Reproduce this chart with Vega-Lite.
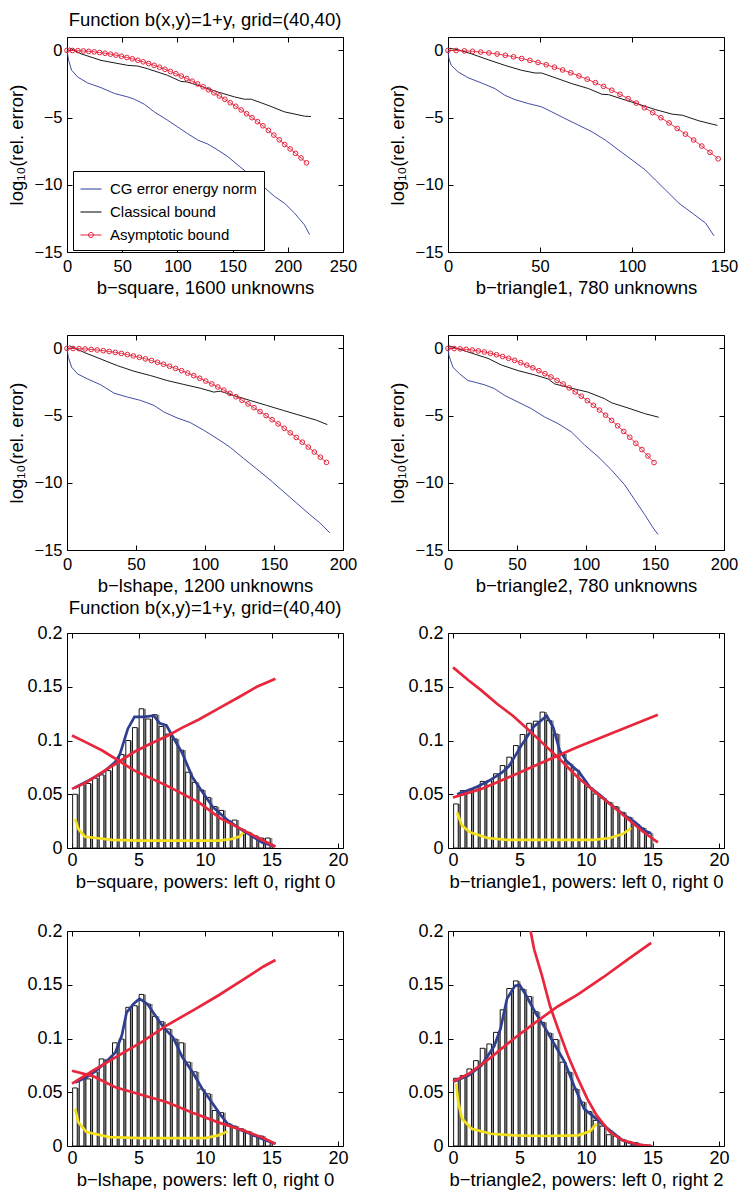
{
"$schema":"https://vega.github.io/schema/vega-lite/v6.json",
"padding":{"left":6,"top":10,"right":5,"bottom":5},
"config":{"font":"Liberation Sans","view":{"stroke":"black","strokeWidth":1},
"axis":{"grid":false,"domain":false,"tickColor":"black","tickWidth":1,"tickSize":-5,"labelColor":"black","titleColor":"black","labelFontSize":16.5,"titleFontSize":18.5,"titleFontWeight":"normal","labelFlush":false,"labelOverlap":false},
"title":{"fontSize":18.5,"fontWeight":"normal","color":"black","offset":7}},
"datasets":{
"L":[
{"p":"sq","s":"cg","x":0,"y":0},{"p":"sq","s":"cg","x":1.5,"y":-0.74},{"p":"sq","s":"cg","x":4.2,"y":-1.48},{"p":"sq","s":"cg","x":9.7,"y":-1.98},{"p":"sq","s":"cg","x":18.7,"y":-2.42},{"p":"sq","s":"cg","x":30.8,"y":-2.77},{"p":"sq","s":"cg","x":42.9,"y":-3.2},{"p":"sq","s":"cg","x":55,"y":-3.46},{"p":"sq","s":"cg","x":61,"y":-3.63},{"p":"sq","s":"cg","x":70,"y":-4.0},{"p":"sq","s":"cg","x":79,"y":-4.57},{"p":"sq","s":"cg","x":91,"y":-5.19},{"p":"sq","s":"cg","x":100,"y":-5.68},{"p":"sq","s":"cg","x":109,"y":-6.18},{"p":"sq","s":"cg","x":118.5,"y":-6.67},{"p":"sq","s":"cg","x":127.6,"y":-6.97},{"p":"sq","s":"cg","x":136.6,"y":-7.41},{"p":"sq","s":"cg","x":145.7,"y":-7.91},{"p":"sq","s":"cg","x":154.8,"y":-8.53},{"p":"sq","s":"cg","x":163.8,"y":-9.14},{"p":"sq","s":"cg","x":176,"y":-10.0},{"p":"sq","s":"cg","x":188,"y":-10.87},{"p":"sq","s":"cg","x":197,"y":-11.37},{"p":"sq","s":"cg","x":206,"y":-12.1},{"p":"sq","s":"cg","x":215,"y":-12.97},{"p":"sq","s":"cg","x":219.8,"y":-13.71},
{"p":"sq","s":"cl","x":2,"y":0.2},{"p":"sq","s":"cl","x":12.7,"y":-0.25},{"p":"sq","s":"cl","x":30.8,"y":-0.74},{"p":"sq","s":"cl","x":55,"y":-1.11},{"p":"sq","s":"cl","x":64,"y":-1.16},{"p":"sq","s":"cl","x":73,"y":-1.36},{"p":"sq","s":"cl","x":91,"y":-1.85},{"p":"sq","s":"cl","x":103,"y":-2.3},{"p":"sq","s":"cl","x":109,"y":-2.35},{"p":"sq","s":"cl","x":121.5,"y":-2.67},{"p":"sq","s":"cl","x":136.6,"y":-3.09},{"p":"sq","s":"cl","x":151.8,"y":-3.46},{"p":"sq","s":"cl","x":160.8,"y":-3.63},{"p":"sq","s":"cl","x":166.9,"y":-3.63},{"p":"sq","s":"cl","x":182,"y":-4.08},{"p":"sq","s":"cl","x":197,"y":-4.57},{"p":"sq","s":"cl","x":215,"y":-4.89},{"p":"sq","s":"cl","x":221,"y":-4.92},
{"p":"sq","s":"as","x":0,"y":0},{"p":"sq","s":"as","x":4.93,"y":-0.004},{"p":"sq","s":"as","x":9.86,"y":-0.017},{"p":"sq","s":"as","x":14.79,"y":-0.039},{"p":"sq","s":"as","x":19.72,"y":-0.069},{"p":"sq","s":"as","x":24.65,"y":-0.108},{"p":"sq","s":"as","x":29.58,"y":-0.156},{"p":"sq","s":"as","x":34.51,"y":-0.212},{"p":"sq","s":"as","x":39.44,"y":-0.277},{"p":"sq","s":"as","x":44.37,"y":-0.35},{"p":"sq","s":"as","x":49.3,"y":-0.433},{"p":"sq","s":"as","x":54.23,"y":-0.523},{"p":"sq","s":"as","x":59.16,"y":-0.623},{"p":"sq","s":"as","x":64.09,"y":-0.731},{"p":"sq","s":"as","x":69.02,"y":-0.848},{"p":"sq","s":"as","x":73.95,"y":-0.973},{"p":"sq","s":"as","x":78.88,"y":-1.107},{"p":"sq","s":"as","x":83.81,"y":-1.25},{"p":"sq","s":"as","x":88.74,"y":-1.402},{"p":"sq","s":"as","x":93.67,"y":-1.562},{"p":"sq","s":"as","x":98.6,"y":-1.73},{"p":"sq","s":"as","x":103.53,"y":-1.908},{"p":"sq","s":"as","x":108.46,"y":-2.094},{"p":"sq","s":"as","x":113.39,"y":-2.288},{"p":"sq","s":"as","x":118.32,"y":-2.492},{"p":"sq","s":"as","x":123.25,"y":-2.704},{"p":"sq","s":"as","x":128.18,"y":-2.924},{"p":"sq","s":"as","x":133.11,"y":-3.154},{"p":"sq","s":"as","x":138.04,"y":-3.392},{"p":"sq","s":"as","x":142.97,"y":-3.638},{"p":"sq","s":"as","x":147.9,"y":-3.893},{"p":"sq","s":"as","x":152.83,"y":-4.157},{"p":"sq","s":"as","x":157.76,"y":-4.43},{"p":"sq","s":"as","x":162.69,"y":-4.711},{"p":"sq","s":"as","x":167.62,"y":-5.001},{"p":"sq","s":"as","x":172.55,"y":-5.299},{"p":"sq","s":"as","x":177.48,"y":-5.606},{"p":"sq","s":"as","x":182.41,"y":-5.95},{"p":"sq","s":"as","x":187.34,"y":-6.3},{"p":"sq","s":"as","x":192.27,"y":-6.65},{"p":"sq","s":"as","x":197.2,"y":-7.0},{"p":"sq","s":"as","x":202.13,"y":-7.33},{"p":"sq","s":"as","x":207.06,"y":-7.66},{"p":"sq","s":"as","x":211.99,"y":-8.0},{"p":"sq","s":"as","x":216.92,"y":-8.36},
{"p":"t1","s":"cg","x":0,"y":0},{"p":"t1","s":"cg","x":0.5,"y":-0.62},{"p":"t1","s":"cg","x":1.8,"y":-1.11},{"p":"t1","s":"cg","x":5.5,"y":-1.6},{"p":"t1","s":"cg","x":10.9,"y":-2.03},{"p":"t1","s":"cg","x":18.2,"y":-2.42},{"p":"t1","s":"cg","x":25.5,"y":-2.84},{"p":"t1","s":"cg","x":30.9,"y":-3.34},{"p":"t1","s":"cg","x":36.4,"y":-3.66},{"p":"t1","s":"cg","x":43.6,"y":-3.95},{"p":"t1","s":"cg","x":50.9,"y":-4.2},{"p":"t1","s":"cg","x":56.4,"y":-4.57},{"p":"t1","s":"cg","x":63.6,"y":-5.07},{"p":"t1","s":"cg","x":70.9,"y":-5.56},{"p":"t1","s":"cg","x":78.2,"y":-6.05},{"p":"t1","s":"cg","x":85.5,"y":-6.67},{"p":"t1","s":"cg","x":92.7,"y":-7.41},{"p":"t1","s":"cg","x":100,"y":-8.15},{"p":"t1","s":"cg","x":107.3,"y":-8.9},{"p":"t1","s":"cg","x":112.7,"y":-9.64},{"p":"t1","s":"cg","x":118.2,"y":-10.38},{"p":"t1","s":"cg","x":125.5,"y":-11.37},{"p":"t1","s":"cg","x":132.7,"y":-12.1},{"p":"t1","s":"cg","x":140,"y":-12.85},{"p":"t1","s":"cg","x":144.5,"y":-13.79},
{"p":"t1","s":"cl","x":0.4,"y":0.17},{"p":"t1","s":"cl","x":5.5,"y":0.05},{"p":"t1","s":"cl","x":12.7,"y":-0.25},{"p":"t1","s":"cl","x":21.8,"y":-0.69},{"p":"t1","s":"cl","x":30.9,"y":-1.11},{"p":"t1","s":"cl","x":40,"y":-1.48},{"p":"t1","s":"cl","x":47.3,"y":-1.68},{"p":"t1","s":"cl","x":50.9,"y":-1.68},{"p":"t1","s":"cl","x":58.2,"y":-2.03},{"p":"t1","s":"cl","x":67.3,"y":-2.47},{"p":"t1","s":"cl","x":76.4,"y":-2.84},{"p":"t1","s":"cl","x":83.6,"y":-3.26},{"p":"t1","s":"cl","x":87.3,"y":-3.29},{"p":"t1","s":"cl","x":94.5,"y":-3.61},{"p":"t1","s":"cl","x":103.6,"y":-4.0},{"p":"t1","s":"cl","x":112.7,"y":-4.4},{"p":"t1","s":"cl","x":121.8,"y":-4.74},{"p":"t1","s":"cl","x":127.3,"y":-4.82},{"p":"t1","s":"cl","x":136.4,"y":-5.24},{"p":"t1","s":"cl","x":146.4,"y":-5.58},
{"p":"t1","s":"as","x":0,"y":0},{"p":"t1","s":"as","x":4.45,"y":-0.007},{"p":"t1","s":"as","x":8.9,"y":-0.03},{"p":"t1","s":"as","x":13.35,"y":-0.067},{"p":"t1","s":"as","x":17.8,"y":-0.119},{"p":"t1","s":"as","x":22.25,"y":-0.185},{"p":"t1","s":"as","x":26.7,"y":-0.267},{"p":"t1","s":"as","x":31.15,"y":-0.363},{"p":"t1","s":"as","x":35.6,"y":-0.474},{"p":"t1","s":"as","x":40.05,"y":-0.6},{"p":"t1","s":"as","x":44.5,"y":-0.741},{"p":"t1","s":"as","x":48.95,"y":-0.896},{"p":"t1","s":"as","x":53.4,"y":-1.066},{"p":"t1","s":"as","x":57.85,"y":-1.252},{"p":"t1","s":"as","x":62.3,"y":-1.452},{"p":"t1","s":"as","x":66.75,"y":-1.666},{"p":"t1","s":"as","x":71.2,"y":-1.896},{"p":"t1","s":"as","x":75.65,"y":-2.14},{"p":"t1","s":"as","x":80.1,"y":-2.4},{"p":"t1","s":"as","x":84.55,"y":-2.674},{"p":"t1","s":"as","x":89,"y":-2.963},{"p":"t1","s":"as","x":93.45,"y":-3.266},{"p":"t1","s":"as","x":97.9,"y":-3.585},{"p":"t1","s":"as","x":102.35,"y":-3.918},{"p":"t1","s":"as","x":106.8,"y":-4.266},{"p":"t1","s":"as","x":111.25,"y":-4.629},{"p":"t1","s":"as","x":115.7,"y":-5.007},{"p":"t1","s":"as","x":120.15,"y":-5.399},{"p":"t1","s":"as","x":124.6,"y":-5.806},{"p":"t1","s":"as","x":129.05,"y":-6.229},{"p":"t1","s":"as","x":133.5,"y":-6.666},{"p":"t1","s":"as","x":137.95,"y":-7.117},{"p":"t1","s":"as","x":142.4,"y":-7.584},{"p":"t1","s":"as","x":146.85,"y":-8.065},
{"p":"ls","s":"cg","x":0,"y":0},{"p":"ls","s":"cg","x":1,"y":-0.67},{"p":"ls","s":"cg","x":3.4,"y":-1.4},{"p":"ls","s":"cg","x":7.7,"y":-1.9},{"p":"ls","s":"cg","x":14.9,"y":-2.27},{"p":"ls","s":"cg","x":24.5,"y":-2.71},{"p":"ls","s":"cg","x":34.1,"y":-3.33},{"p":"ls","s":"cg","x":43.8,"y":-3.62},{"p":"ls","s":"cg","x":53.4,"y":-3.87},{"p":"ls","s":"cg","x":63,"y":-4.24},{"p":"ls","s":"cg","x":70.2,"y":-4.73},{"p":"ls","s":"cg","x":79.8,"y":-5.17},{"p":"ls","s":"cg","x":89.4,"y":-5.52},{"p":"ls","s":"cg","x":99,"y":-6.08},{"p":"ls","s":"cg","x":108.7,"y":-6.7},{"p":"ls","s":"cg","x":118.3,"y":-7.36},{"p":"ls","s":"cg","x":127.9,"y":-8.18},{"p":"ls","s":"cg","x":137.5,"y":-8.97},{"p":"ls","s":"cg","x":147.1,"y":-9.78},{"p":"ls","s":"cg","x":156.7,"y":-10.64},{"p":"ls","s":"cg","x":166.3,"y":-11.5},{"p":"ls","s":"cg","x":175.9,"y":-12.36},{"p":"ls","s":"cg","x":183.2,"y":-12.98},{"p":"ls","s":"cg","x":190.4,"y":-13.72},
{"p":"ls","s":"cl","x":1.7,"y":0.2},{"p":"ls","s":"cl","x":12.5,"y":-0.3},{"p":"ls","s":"cl","x":24.5,"y":-0.79},{"p":"ls","s":"cl","x":36.5,"y":-1.28},{"p":"ls","s":"cl","x":48.6,"y":-1.7},{"p":"ls","s":"cl","x":60.6,"y":-2.02},{"p":"ls","s":"cl","x":72.6,"y":-2.39},{"p":"ls","s":"cl","x":84.6,"y":-2.68},{"p":"ls","s":"cl","x":96.6,"y":-2.96},{"p":"ls","s":"cl","x":106.3,"y":-3.25},{"p":"ls","s":"cl","x":111,"y":-3.18},{"p":"ls","s":"cl","x":120.7,"y":-3.5},{"p":"ls","s":"cl","x":132.7,"y":-3.87},{"p":"ls","s":"cl","x":144.7,"y":-4.24},{"p":"ls","s":"cl","x":156.7,"y":-4.61},{"p":"ls","s":"cl","x":168.8,"y":-4.98},{"p":"ls","s":"cl","x":180.8,"y":-5.34},{"p":"ls","s":"cl","x":188.7,"y":-5.67},
{"p":"ls","s":"as","x":0,"y":0},{"p":"ls","s":"as","x":4.37,"y":-0.005},{"p":"ls","s":"as","x":8.74,"y":-0.018},{"p":"ls","s":"as","x":13.12,"y":-0.041},{"p":"ls","s":"as","x":17.49,"y":-0.073},{"p":"ls","s":"as","x":21.86,"y":-0.115},{"p":"ls","s":"as","x":26.23,"y":-0.165},{"p":"ls","s":"as","x":30.6,"y":-0.225},{"p":"ls","s":"as","x":34.98,"y":-0.294},{"p":"ls","s":"as","x":39.35,"y":-0.372},{"p":"ls","s":"as","x":43.72,"y":-0.459},{"p":"ls","s":"as","x":48.09,"y":-0.555},{"p":"ls","s":"as","x":52.46,"y":-0.661},{"p":"ls","s":"as","x":56.84,"y":-0.775},{"p":"ls","s":"as","x":61.21,"y":-0.899},{"p":"ls","s":"as","x":65.58,"y":-1.032},{"p":"ls","s":"as","x":69.95,"y":-1.174},{"p":"ls","s":"as","x":74.32,"y":-1.326},{"p":"ls","s":"as","x":78.7,"y":-1.486},{"p":"ls","s":"as","x":83.07,"y":-1.656},{"p":"ls","s":"as","x":87.44,"y":-1.835},{"p":"ls","s":"as","x":91.81,"y":-2.023},{"p":"ls","s":"as","x":96.18,"y":-2.22},{"p":"ls","s":"as","x":100.56,"y":-2.426},{"p":"ls","s":"as","x":104.93,"y":-2.642},{"p":"ls","s":"as","x":109.3,"y":-2.867},{"p":"ls","s":"as","x":113.67,"y":-3.101},{"p":"ls","s":"as","x":118.04,"y":-3.344},{"p":"ls","s":"as","x":122.42,"y":-3.596},{"p":"ls","s":"as","x":126.79,"y":-3.858},{"p":"ls","s":"as","x":131.16,"y":-4.128},{"p":"ls","s":"as","x":135.53,"y":-4.408},{"p":"ls","s":"as","x":139.9,"y":-4.697},{"p":"ls","s":"as","x":144.28,"y":-4.995},{"p":"ls","s":"as","x":148.65,"y":-5.303},{"p":"ls","s":"as","x":153.02,"y":-5.619},{"p":"ls","s":"as","x":157.39,"y":-5.945},{"p":"ls","s":"as","x":161.76,"y":-6.28},{"p":"ls","s":"as","x":166.14,"y":-6.624},{"p":"ls","s":"as","x":170.51,"y":-6.977},{"p":"ls","s":"as","x":174.88,"y":-7.339},{"p":"ls","s":"as","x":179.25,"y":-7.711},{"p":"ls","s":"as","x":183.62,"y":-8.091},{"p":"ls","s":"as","x":188.0,"y":-8.481},
{"p":"t2","s":"cg","x":0,"y":0},{"p":"t2","s":"cg","x":0.7,"y":-0.54},{"p":"t2","s":"cg","x":3.6,"y":-1.4},{"p":"t2","s":"cg","x":8.5,"y":-1.9},{"p":"t2","s":"cg","x":14.5,"y":-2.39},{"p":"t2","s":"cg","x":19.3,"y":-2.51},{"p":"t2","s":"cg","x":26.6,"y":-2.71},{"p":"t2","s":"cg","x":33.8,"y":-3.0},{"p":"t2","s":"cg","x":41.1,"y":-3.5},{"p":"t2","s":"cg","x":50.7,"y":-3.99},{"p":"t2","s":"cg","x":60.4,"y":-4.48},{"p":"t2","s":"cg","x":70,"y":-5.1},{"p":"t2","s":"cg","x":79.7,"y":-5.59},{"p":"t2","s":"cg","x":89.4,"y":-6.21},{"p":"t2","s":"cg","x":99,"y":-7.19},{"p":"t2","s":"cg","x":108.7,"y":-8.05},{"p":"t2","s":"cg","x":118.4,"y":-9.04},{"p":"t2","s":"cg","x":128,"y":-10.15},{"p":"t2","s":"cg","x":135.3,"y":-11.26},{"p":"t2","s":"cg","x":142.5,"y":-12.36},{"p":"t2","s":"cg","x":148.6,"y":-13.35},{"p":"t2","s":"cg","x":152.2,"y":-13.84},
{"p":"t2","s":"cl","x":0.5,"y":0.2},{"p":"t2","s":"cl","x":9.7,"y":-0.1},{"p":"t2","s":"cl","x":19.3,"y":-0.42},{"p":"t2","s":"cl","x":29,"y":-0.74},{"p":"t2","s":"cl","x":38.6,"y":-1.23},{"p":"t2","s":"cl","x":50.7,"y":-1.65},{"p":"t2","s":"cl","x":62.8,"y":-1.97},{"p":"t2","s":"cl","x":72.5,"y":-2.27},{"p":"t2","s":"cl","x":77.3,"y":-2.64},{"p":"t2","s":"cl","x":89.4,"y":-2.96},{"p":"t2","s":"cl","x":101.4,"y":-3.25},{"p":"t2","s":"cl","x":113.5,"y":-3.74},{"p":"t2","s":"cl","x":118.4,"y":-4.04},{"p":"t2","s":"cl","x":130.4,"y":-4.43},{"p":"t2","s":"cl","x":142.5,"y":-4.85},{"p":"t2","s":"cl","x":152.7,"y":-5.12},
{"p":"t2","s":"as","x":0,"y":0},{"p":"t2","s":"as","x":4.39,"y":-0.007},{"p":"t2","s":"as","x":8.78,"y":-0.029},{"p":"t2","s":"as","x":13.17,"y":-0.066},{"p":"t2","s":"as","x":17.56,"y":-0.118},{"p":"t2","s":"as","x":21.96,"y":-0.184},{"p":"t2","s":"as","x":26.35,"y":-0.265},{"p":"t2","s":"as","x":30.74,"y":-0.36},{"p":"t2","s":"as","x":35.13,"y":-0.47},{"p":"t2","s":"as","x":39.52,"y":-0.595},{"p":"t2","s":"as","x":43.91,"y":-0.735},{"p":"t2","s":"as","x":48.3,"y":-0.889},{"p":"t2","s":"as","x":52.69,"y":-1.058},{"p":"t2","s":"as","x":57.08,"y":-1.241},{"p":"t2","s":"as","x":61.47,"y":-1.44},{"p":"t2","s":"as","x":65.87,"y":-1.653},{"p":"t2","s":"as","x":70.26,"y":-1.881},{"p":"t2","s":"as","x":74.65,"y":-2.123},{"p":"t2","s":"as","x":79.04,"y":-2.38},{"p":"t2","s":"as","x":83.43,"y":-2.652},{"p":"t2","s":"as","x":87.82,"y":-2.938},{"p":"t2","s":"as","x":92.21,"y":-3.24},{"p":"t2","s":"as","x":96.6,"y":-3.555},{"p":"t2","s":"as","x":100.99,"y":-3.886},{"p":"t2","s":"as","x":105.38,"y":-4.231},{"p":"t2","s":"as","x":109.78,"y":-4.591},{"p":"t2","s":"as","x":114.17,"y":-4.966},{"p":"t2","s":"as","x":118.56,"y":-5.355},{"p":"t2","s":"as","x":122.95,"y":-5.759},{"p":"t2","s":"as","x":127.34,"y":-6.178},{"p":"t2","s":"as","x":131.73,"y":-6.611},{"p":"t2","s":"as","x":136.12,"y":-7.06},{"p":"t2","s":"as","x":140.51,"y":-7.522},{"p":"t2","s":"as","x":144.9,"y":-8.0},{"p":"t2","s":"as","x":149.29,"y":-8.492}
],
"H":[
{"p":"sq","x":0.22,"h":0.050},{"p":"sq","x":0.72,"h":0.059},{"p":"sq","x":1.22,"h":0.060},{"p":"sq","x":1.72,"h":0.065},{"p":"sq","x":2.22,"h":0.068},{"p":"sq","x":2.72,"h":0.072},{"p":"sq","x":3.22,"h":0.078},{"p":"sq","x":3.72,"h":0.087},{"p":"sq","x":4.22,"h":0.100},{"p":"sq","x":4.72,"h":0.112},{"p":"sq","x":5.22,"h":0.1295},{"p":"sq","x":5.72,"h":0.120},{"p":"sq","x":6.22,"h":0.124},{"p":"sq","x":6.72,"h":0.113},{"p":"sq","x":7.22,"h":0.106},{"p":"sq","x":7.72,"h":0.1015},{"p":"sq","x":8.22,"h":0.091},{"p":"sq","x":8.72,"h":0.0705},{"p":"sq","x":9.22,"h":0.061},{"p":"sq","x":9.72,"h":0.054},{"p":"sq","x":10.22,"h":0.047},{"p":"sq","x":10.72,"h":0.0385},{"p":"sq","x":11.22,"h":0.035},{"p":"sq","x":11.72,"h":0.0255},{"p":"sq","x":12.22,"h":0.026},{"p":"sq","x":12.72,"h":0.0177},{"p":"sq","x":13.22,"h":0.0146},{"p":"sq","x":13.72,"h":0.0115},{"p":"sq","x":14.22,"h":0.0093},{"p":"sq","x":14.72,"h":0.0093},
{"p":"t1","x":0.22,"h":0.041},{"p":"t1","x":0.72,"h":0.0534},{"p":"t1","x":1.22,"h":0.054},{"p":"t1","x":1.72,"h":0.0565},{"p":"t1","x":2.22,"h":0.062},{"p":"t1","x":2.72,"h":0.0627},{"p":"t1","x":3.22,"h":0.069},{"p":"t1","x":3.72,"h":0.0767},{"p":"t1","x":4.22,"h":0.0845},{"p":"t1","x":4.72,"h":0.0953},{"p":"t1","x":5.22,"h":0.1056},{"p":"t1","x":5.72,"h":0.116},{"p":"t1","x":6.22,"h":0.118},{"p":"t1","x":6.72,"h":0.1264},{"p":"t1","x":7.22,"h":0.1186},{"p":"t1","x":7.72,"h":0.106},{"p":"t1","x":8.22,"h":0.0876},{"p":"t1","x":8.72,"h":0.0783},{"p":"t1","x":9.22,"h":0.0727},{"p":"t1","x":9.72,"h":0.0627},{"p":"t1","x":10.22,"h":0.0565},{"p":"t1","x":10.72,"h":0.0503},{"p":"t1","x":11.22,"h":0.0466},{"p":"t1","x":11.72,"h":0.0425},{"p":"t1","x":12.22,"h":0.0385},{"p":"t1","x":12.72,"h":0.0332},{"p":"t1","x":13.22,"h":0.0286},{"p":"t1","x":13.72,"h":0.0224},{"p":"t1","x":14.22,"h":0.0186},{"p":"t1","x":14.72,"h":0.0137},
{"p":"ls","x":0.22,"h":0.054},{"p":"ls","x":0.72,"h":0.0624},{"p":"ls","x":1.22,"h":0.0624},{"p":"ls","x":1.72,"h":0.069},{"p":"ls","x":2.22,"h":0.081},{"p":"ls","x":2.72,"h":0.080},{"p":"ls","x":3.22,"h":0.096},{"p":"ls","x":3.72,"h":0.0995},{"p":"ls","x":4.22,"h":0.129},{"p":"ls","x":4.72,"h":0.1305},{"p":"ls","x":5.22,"h":0.141},{"p":"ls","x":5.72,"h":0.132},{"p":"ls","x":6.22,"h":0.1206},{"p":"ls","x":6.72,"h":0.1156},{"p":"ls","x":7.22,"h":0.1088},{"p":"ls","x":7.72,"h":0.0995},{"p":"ls","x":8.22,"h":0.096},{"p":"ls","x":8.72,"h":0.078},{"p":"ls","x":9.22,"h":0.069},{"p":"ls","x":9.72,"h":0.053},{"p":"ls","x":10.22,"h":0.0485},{"p":"ls","x":10.72,"h":0.033},{"p":"ls","x":11.22,"h":0.031},{"p":"ls","x":11.72,"h":0.0207},{"p":"ls","x":12.22,"h":0.0185},{"p":"ls","x":12.72,"h":0.016},{"p":"ls","x":13.22,"h":0.0136},{"p":"ls","x":13.72,"h":0.0093},{"p":"ls","x":14.22,"h":0.0093},{"p":"ls","x":14.72,"h":0.0043},
{"p":"t2","x":0.22,"h":0.063},{"p":"t2","x":0.72,"h":0.0655},{"p":"t2","x":1.22,"h":0.0717},{"p":"t2","x":1.72,"h":0.0794},{"p":"t2","x":2.22,"h":0.0909},{"p":"t2","x":2.72,"h":0.0949},{"p":"t2","x":3.22,"h":0.1057},{"p":"t2","x":3.72,"h":0.1267},{"p":"t2","x":4.22,"h":0.1465},{"p":"t2","x":4.72,"h":0.1536},{"p":"t2","x":5.22,"h":0.1459},{"p":"t2","x":5.72,"h":0.139},{"p":"t2","x":6.22,"h":0.1249},{"p":"t2","x":6.72,"h":0.115},{"p":"t2","x":7.22,"h":0.105},{"p":"t2","x":7.72,"h":0.099},{"p":"t2","x":8.22,"h":0.078},{"p":"t2","x":8.72,"h":0.0686},{"p":"t2","x":9.22,"h":0.053},{"p":"t2","x":9.72,"h":0.0408},{"p":"t2","x":10.22,"h":0.0321},{"p":"t2","x":10.72,"h":0.0238},{"p":"t2","x":11.22,"h":0.0185},{"p":"t2","x":11.72,"h":0.0105},{"p":"t2","x":12.22,"h":0.0093},{"p":"t2","x":12.72,"h":0.0062},{"p":"t2","x":13.22,"h":0.0043},{"p":"t2","x":13.72,"h":0.0031},{"p":"t2","x":14.22,"h":0.0012},{"p":"t2","x":14.72,"h":0.0006}
],
"C":[
{"p":"sq","s":"yel","x":0.24,"y":0.027},{"p":"sq","s":"yel","x":0.48,"y":0.0177},{"p":"sq","s":"yel","x":0.97,"y":0.0106},{"p":"sq","s":"yel","x":1.8,"y":0.0093},{"p":"sq","s":"yel","x":3.0,"y":0.0075},{"p":"sq","s":"yel","x":5.2,"y":0.0068},{"p":"sq","s":"yel","x":7.6,"y":0.0068},{"p":"sq","s":"yel","x":11.0,"y":0.0068},{"p":"sq","s":"yel","x":12.0,"y":0.0084},{"p":"sq","s":"yel","x":12.6,"y":0.0106},{"p":"sq","s":"yel","x":12.9,"y":0.0146},
{"p":"sq","s":"fit","x":0.2,"y":0.056},{"p":"sq","s":"fit","x":1.3,"y":0.063},{"p":"sq","s":"fit","x":2.3,"y":0.07},{"p":"sq","s":"fit","x":3.25,"y":0.08},{"p":"sq","s":"fit","x":3.6,"y":0.087},{"p":"sq","s":"fit","x":3.85,"y":0.097},{"p":"sq","s":"fit","x":4.2,"y":0.111},{"p":"sq","s":"fit","x":4.7,"y":0.122},{"p":"sq","s":"fit","x":5.4,"y":0.122},{"p":"sq","s":"fit","x":6.15,"y":0.123},{"p":"sq","s":"fit","x":6.6,"y":0.116},{"p":"sq","s":"fit","x":7.1,"y":0.114},{"p":"sq","s":"fit","x":7.6,"y":0.103},{"p":"sq","s":"fit","x":8.3,"y":0.088},{"p":"sq","s":"fit","x":9.05,"y":0.066},{"p":"sq","s":"fit","x":9.7,"y":0.054},{"p":"sq","s":"fit","x":10.6,"y":0.038},{"p":"sq","s":"fit","x":11.6,"y":0.027},{"p":"sq","s":"fit","x":12.6,"y":0.018},{"p":"sq","s":"fit","x":13.3,"y":0.013},{"p":"sq","s":"fit","x":14.3,"y":0.005},{"p":"sq","s":"fit","x":15.25,"y":0.0015},
{"p":"sq","s":"r1","x":0,"y":0.055},{"p":"sq","s":"r1","x":1.09,"y":0.061},{"p":"sq","s":"r1","x":2.27,"y":0.0705},{"p":"sq","s":"r1","x":3.5,"y":0.08},{"p":"sq","s":"r1","x":4.7,"y":0.0895},{"p":"sq","s":"r1","x":5.9,"y":0.097},{"p":"sq","s":"r1","x":7.12,"y":0.104},{"p":"sq","s":"r1","x":8.3,"y":0.112},{"p":"sq","s":"r1","x":9.54,"y":0.1195},{"p":"sq","s":"r1","x":11.2,"y":0.131},{"p":"sq","s":"r1","x":12.5,"y":0.14},{"p":"sq","s":"r1","x":13.9,"y":0.15},{"p":"sq","s":"r1","x":15.3,"y":0.1575},
{"p":"sq","s":"r2","x":0,"y":0.1047},{"p":"sq","s":"r2","x":1.1,"y":0.098},{"p":"sq","s":"r2","x":2.27,"y":0.0907},{"p":"sq","s":"r2","x":4.7,"y":0.072},{"p":"sq","s":"r2","x":7.12,"y":0.058},{"p":"sq","s":"r2","x":9.54,"y":0.0425},{"p":"sq","s":"r2","x":11.1,"y":0.028},{"p":"sq","s":"r2","x":12.5,"y":0.019},{"p":"sq","s":"r2","x":13.9,"y":0.01},{"p":"sq","s":"r2","x":15.3,"y":0.0012},
{"p":"t1","s":"yel","x":0.31,"y":0.033},{"p":"t1","s":"yel","x":0.68,"y":0.0208},{"p":"t1","s":"yel","x":1.28,"y":0.0146},{"p":"t1","s":"yel","x":2.6,"y":0.0093},{"p":"t1","s":"yel","x":4.06,"y":0.0075},{"p":"t1","s":"yel","x":7,"y":0.0075},{"p":"t1","s":"yel","x":10.6,"y":0.0075},{"p":"t1","s":"yel","x":11.8,"y":0.0093},{"p":"t1","s":"yel","x":12.75,"y":0.013},{"p":"t1","s":"yel","x":13.4,"y":0.0186},
{"p":"t1","s":"fit","x":0.31,"y":0.05},{"p":"t1","s":"fit","x":1.0,"y":0.053},{"p":"t1","s":"fit","x":1.74,"y":0.0565},{"p":"t1","s":"fit","x":2.7,"y":0.0625},{"p":"t1","s":"fit","x":3.67,"y":0.07},{"p":"t1","s":"fit","x":4.2,"y":0.076},{"p":"t1","s":"fit","x":4.64,"y":0.085},{"p":"t1","s":"fit","x":5.12,"y":0.095},{"p":"t1","s":"fit","x":5.6,"y":0.104},{"p":"t1","s":"fit","x":6.09,"y":0.113},{"p":"t1","s":"fit","x":6.57,"y":0.118},{"p":"t1","s":"fit","x":7.05,"y":0.123},{"p":"t1","s":"fit","x":7.54,"y":0.112},{"p":"t1","s":"fit","x":8.01,"y":0.091},{"p":"t1","s":"fit","x":8.5,"y":0.0814},{"p":"t1","s":"fit","x":8.99,"y":0.0758},{"p":"t1","s":"fit","x":9.46,"y":0.071},{"p":"t1","s":"fit","x":10.3,"y":0.0565},{"p":"t1","s":"fit","x":11.1,"y":0.0488},{"p":"t1","s":"fit","x":11.8,"y":0.041},{"p":"t1","s":"fit","x":12.75,"y":0.0317},{"p":"t1","s":"fit","x":13.7,"y":0.024},{"p":"t1","s":"fit","x":14.4,"y":0.016},{"p":"t1","s":"fit","x":14.9,"y":0.0137},
{"p":"t1","s":"r1","x":0,"y":0.047},{"p":"t1","s":"r1","x":2.13,"y":0.055},{"p":"t1","s":"r1","x":4.5,"y":0.0674},{"p":"t1","s":"r1","x":6.96,"y":0.081},{"p":"t1","s":"r1","x":9.37,"y":0.094},{"p":"t1","s":"r1","x":11.8,"y":0.106},{"p":"t1","s":"r1","x":15.4,"y":0.124},
{"p":"t1","s":"r2","x":0,"y":0.168},{"p":"t1","s":"r2","x":1.16,"y":0.156},{"p":"t1","s":"r2","x":2.13,"y":0.1466},{"p":"t1","s":"r2","x":3.33,"y":0.134},{"p":"t1","s":"r2","x":4.5,"y":0.123},{"p":"t1","s":"r2","x":5.75,"y":0.109},{"p":"t1","s":"r2","x":6.96,"y":0.095},{"p":"t1","s":"r2","x":8.16,"y":0.081},{"p":"t1","s":"r2","x":9.37,"y":0.0658},{"p":"t1","s":"r2","x":10.6,"y":0.053},{"p":"t1","s":"r2","x":11.8,"y":0.041},{"p":"t1","s":"r2","x":13.0,"y":0.0286},{"p":"t1","s":"r2","x":14.2,"y":0.016},{"p":"t1","s":"r2","x":15.4,"y":0.0053},
{"p":"ls","s":"yel","x":0.24,"y":0.0346},{"p":"ls","s":"yel","x":0.48,"y":0.022},{"p":"ls","s":"yel","x":1.09,"y":0.013},{"p":"ls","s":"yel","x":2.8,"y":0.0083},{"p":"ls","s":"yel","x":5.2,"y":0.0074},{"p":"ls","s":"yel","x":10,"y":0.0074},{"p":"ls","s":"yel","x":11,"y":0.0099},{"p":"ls","s":"yel","x":11.7,"y":0.0136},
{"p":"ls","s":"fit","x":0.24,"y":0.059},{"p":"ls","s":"fit","x":1.09,"y":0.064},{"p":"ls","s":"fit","x":1.81,"y":0.07},{"p":"ls","s":"fit","x":2.54,"y":0.078},{"p":"ls","s":"fit","x":3.26,"y":0.087},{"p":"ls","s":"fit","x":3.75,"y":0.103},{"p":"ls","s":"fit","x":4.1,"y":0.124},{"p":"ls","s":"fit","x":4.6,"y":0.132},{"p":"ls","s":"fit","x":5.08,"y":0.137},{"p":"ls","s":"fit","x":5.68,"y":0.132},{"p":"ls","s":"fit","x":6.17,"y":0.123},{"p":"ls","s":"fit","x":6.9,"y":0.11},{"p":"ls","s":"fit","x":7.6,"y":0.101},{"p":"ls","s":"fit","x":8.3,"y":0.0825},{"p":"ls","s":"fit","x":9.07,"y":0.0686},{"p":"ls","s":"fit","x":9.8,"y":0.053},{"p":"ls","s":"fit","x":10.5,"y":0.041},{"p":"ls","s":"fit","x":11.2,"y":0.0284},{"p":"ls","s":"fit","x":11.7,"y":0.0207},{"p":"ls","s":"fit","x":12.45,"y":0.016},{"p":"ls","s":"fit","x":13.4,"y":0.0114},{"p":"ls","s":"fit","x":14.4,"y":0.006},{"p":"ls","s":"fit","x":15.3,"y":0.002},
{"p":"ls","s":"r1","x":0,"y":0.058},{"p":"ls","s":"r1","x":1.57,"y":0.07},{"p":"ls","s":"r1","x":3.26,"y":0.0825},{"p":"ls","s":"r1","x":5.2,"y":0.0964},{"p":"ls","s":"r1","x":7.1,"y":0.112},{"p":"ls","s":"r1","x":9.07,"y":0.126},{"p":"ls","s":"r1","x":11.0,"y":0.14},{"p":"ls","s":"r1","x":12.9,"y":0.155},{"p":"ls","s":"r1","x":14.4,"y":0.167},{"p":"ls","s":"r1","x":15.3,"y":0.173},
{"p":"ls","s":"r2","x":0,"y":0.07},{"p":"ls","s":"r2","x":1.57,"y":0.065},{"p":"ls","s":"r2","x":3.26,"y":0.0547},{"p":"ls","s":"r2","x":5.2,"y":0.0476},{"p":"ls","s":"r2","x":7.1,"y":0.041},{"p":"ls","s":"r2","x":9.07,"y":0.031},{"p":"ls","s":"r2","x":11.0,"y":0.022},{"p":"ls","s":"r2","x":12.9,"y":0.0145},{"p":"ls","s":"r2","x":14.4,"y":0.0074},{"p":"ls","s":"r2","x":15.3,"y":0.002},
{"p":"t2","s":"yel","x":0.24,"y":0.058},{"p":"t2","s":"yel","x":0.39,"y":0.041},{"p":"t2","s":"yel","x":0.68,"y":0.0253},{"p":"t2","s":"yel","x":1.4,"y":0.016},{"p":"t2","s":"yel","x":2.85,"y":0.0114},{"p":"t2","s":"yel","x":4.54,"y":0.0099},{"p":"t2","s":"yel","x":6.96,"y":0.0093},{"p":"t2","s":"yel","x":9.4,"y":0.0099},{"p":"t2","s":"yel","x":10.3,"y":0.0136},{"p":"t2","s":"yel","x":10.8,"y":0.0207},
{"p":"t2","s":"fit","x":0.07,"y":0.06},{"p":"t2","s":"fit","x":1.16,"y":0.0655},{"p":"t2","s":"fit","x":2.13,"y":0.0748},{"p":"t2","s":"fit","x":3.1,"y":0.093},{"p":"t2","s":"fit","x":3.57,"y":0.109},{"p":"t2","s":"fit","x":4.06,"y":0.137},{"p":"t2","s":"fit","x":4.66,"y":0.149},{"p":"t2","s":"fit","x":5.0,"y":0.15},{"p":"t2","s":"fit","x":5.5,"y":0.14},{"p":"t2","s":"fit","x":6.2,"y":0.124},{"p":"t2","s":"fit","x":6.96,"y":0.109},{"p":"t2","s":"fit","x":7.7,"y":0.093},{"p":"t2","s":"fit","x":8.4,"y":0.078},{"p":"t2","s":"fit","x":9.1,"y":0.056},{"p":"t2","s":"fit","x":9.86,"y":0.0346},{"p":"t2","s":"fit","x":10.8,"y":0.025},{"p":"t2","s":"fit","x":11.8,"y":0.0145},{"p":"t2","s":"fit","x":12.75,"y":0.0053},{"p":"t2","s":"fit","x":13.7,"y":0.0012},{"p":"t2","s":"fit","x":14.9,"y":0},
{"p":"t2","s":"r1","x":0,"y":0.06},{"p":"t2","s":"r1","x":1.16,"y":0.067},{"p":"t2","s":"r1","x":2.85,"y":0.0825},{"p":"t2","s":"r1","x":4.54,"y":0.0995},{"p":"t2","s":"r1","x":6.2,"y":0.115},{"p":"t2","s":"r1","x":7.9,"y":0.13},{"p":"t2","s":"r1","x":9.4,"y":0.141},{"p":"t2","s":"r1","x":11.3,"y":0.157},{"p":"t2","s":"r1","x":13.2,"y":0.174},{"p":"t2","s":"r1","x":14.9,"y":0.189},
{"p":"t2","s":"r2","x":5.75,"y":0.205},{"p":"t2","s":"r2","x":6.1,"y":0.183},{"p":"t2","s":"r2","x":6.7,"y":0.158},{"p":"t2","s":"r2","x":7.3,"y":0.13},{"p":"t2","s":"r2","x":7.9,"y":0.109},{"p":"t2","s":"r2","x":8.65,"y":0.084},{"p":"t2","s":"r2","x":9.4,"y":0.0624},{"p":"t2","s":"r2","x":10.1,"y":0.0439},{"p":"t2","s":"r2","x":10.8,"y":0.0284},{"p":"t2","s":"r2","x":11.8,"y":0.013},{"p":"t2","s":"r2","x":12.75,"y":0.0053},{"p":"t2","s":"r2","x":13.95,"y":0.0012},{"p":"t2","s":"r2","x":14.9,"y":0}
]
},
"columns":2,
"bounds":"flush",
"spacing":{"row":83,"column":105},
"resolve":{"scale":{"color":"independent"},"legend":{"color":"independent"}},
"concat":[
{"width":276,"height":215,"title":"Function b(x,y)=1+y, grid=(40,40)","data":{"name":"L"},"transform":[{"filter":"datum.p === 'sq'"}],
"layer":[
{"mark":{"type":"line","strokeWidth":0.9},"encoding":{
"x":{"field":"x","type":"quantitative","scale":{"domain":[0,250],"nice":false,"zero":false},"axis":{"orient":"bottom","values":[0,50,100,150,200,250],"title":"b−square, 1600 unknowns","labelPadding":11,"titlePadding":4}},
"y":{"field":"y","type":"quantitative","scale":{"domain":[-15,1],"nice":false,"zero":false},"axis":{"orient":"left","values":[-15,-10,-5,0],"title":"log₁₀(rel. error)","labelPadding":10,"titlePadding":8}},
"color":{"field":"s","type":"nominal","scale":{"domain":["cg","cl","as"],"range":["#2b3a96","#000000","#e5223b"]},
"legend":{"orient":"none","legendX":6,"legendY":134,"title":null,"fillColor":"white","strokeColor":"black","padding":7,"labelFontSize":15,"labelColor":"black","symbolType":"stroke","symbolSize":440,"symbolStrokeWidth":1,"rowPadding":4,"labelOffset":8,"labelLimit":300,
"labelExpr":"datum.label === 'cg' ? 'CG error energy norm' : datum.label === 'cl' ? 'Classical bound' : 'Asymptotic bound'",
"encode":{"symbols":{"update":{"shape":{"signal":"datum.value === 'as' ? 'M-1,0L1,0M0.24,0A0.24,0.24,0,1,1,-0.24,0A0.24,0.24,0,1,1,0.24,0' : 'stroke'"}}}}}}}},
{"transform":[{"filter":"datum.s === 'as'"}],"mark":{"type":"point","shape":"circle","size":22,"filled":false,"strokeWidth":1,"color":"#e5223b","opacity":1},"encoding":{
"x":{"field":"x","type":"quantitative","axis":{"orient":"top","values":[0,50,100,150,200,250],"labels":false,"title":null}},
"y":{"field":"y","type":"quantitative","axis":{"orient":"right","values":[-15,-10,-5,0],"labels":false,"title":null}}}}
],"resolve":{"axis":{"x":"independent","y":"independent"}}},
{"width":276,"height":215,"data":{"name":"L"},"transform":[{"filter":"datum.p === 't1'"}],
"layer":[
{"mark":{"type":"line","strokeWidth":0.9},"encoding":{
"x":{"field":"x","type":"quantitative","scale":{"domain":[0,150],"nice":false,"zero":false},"axis":{"orient":"bottom","values":[0,50,100,150],"title":"b−triangle1, 780 unknowns","labelPadding":11,"titlePadding":4}},
"y":{"field":"y","type":"quantitative","scale":{"domain":[-15,1],"nice":false,"zero":false},"axis":{"orient":"left","values":[-15,-10,-5,0],"title":"log₁₀(rel. error)","labelPadding":10,"titlePadding":8}},
"color":{"field":"s","type":"nominal","scale":{"domain":["cg","cl","as"],"range":["#2b3a96","#000000","#e5223b"]},"legend":null}}},
{"transform":[{"filter":"datum.s === 'as'"}],"mark":{"type":"point","shape":"circle","size":22,"filled":false,"strokeWidth":1,"color":"#e5223b","opacity":1},"encoding":{
"x":{"field":"x","type":"quantitative","axis":{"orient":"top","values":[0,50,100,150],"labels":false,"title":null}},
"y":{"field":"y","type":"quantitative","axis":{"orient":"right","values":[-15,-10,-5,0],"labels":false,"title":null}}}}
],"resolve":{"axis":{"x":"independent","y":"independent"}}},
{"width":276,"height":215,"data":{"name":"L"},"transform":[{"filter":"datum.p === 'ls'"}],
"layer":[
{"mark":{"type":"line","strokeWidth":0.9},"encoding":{
"x":{"field":"x","type":"quantitative","scale":{"domain":[0,200],"nice":false,"zero":false},"axis":{"orient":"bottom","values":[0,50,100,150,200],"title":"b−lshape, 1200 unknowns","labelPadding":11,"titlePadding":4}},
"y":{"field":"y","type":"quantitative","scale":{"domain":[-15,1],"nice":false,"zero":false},"axis":{"orient":"left","values":[-15,-10,-5,0],"title":"log₁₀(rel. error)","labelPadding":10,"titlePadding":8}},
"color":{"field":"s","type":"nominal","scale":{"domain":["cg","cl","as"],"range":["#2b3a96","#000000","#e5223b"]},"legend":null}}},
{"transform":[{"filter":"datum.s === 'as'"}],"mark":{"type":"point","shape":"circle","size":22,"filled":false,"strokeWidth":1,"color":"#e5223b","opacity":1},"encoding":{
"x":{"field":"x","type":"quantitative","axis":{"orient":"top","values":[0,50,100,150,200],"labels":false,"title":null}},
"y":{"field":"y","type":"quantitative","axis":{"orient":"right","values":[-15,-10,-5,0],"labels":false,"title":null}}}}
],"resolve":{"axis":{"x":"independent","y":"independent"}}},
{"width":276,"height":215,"data":{"name":"L"},"transform":[{"filter":"datum.p === 't2'"}],
"layer":[
{"mark":{"type":"line","strokeWidth":0.9},"encoding":{
"x":{"field":"x","type":"quantitative","scale":{"domain":[0,200],"nice":false,"zero":false},"axis":{"orient":"bottom","values":[0,50,100,150,200],"title":"b−triangle2, 780 unknowns","labelPadding":11,"titlePadding":4}},
"y":{"field":"y","type":"quantitative","scale":{"domain":[-15,1],"nice":false,"zero":false},"axis":{"orient":"left","values":[-15,-10,-5,0],"title":"log₁₀(rel. error)","labelPadding":10,"titlePadding":8}},
"color":{"field":"s","type":"nominal","scale":{"domain":["cg","cl","as"],"range":["#2b3a96","#000000","#e5223b"]},"legend":null}}},
{"transform":[{"filter":"datum.s === 'as'"}],"mark":{"type":"point","shape":"circle","size":22,"filled":false,"strokeWidth":1,"color":"#e5223b","opacity":1},"encoding":{
"x":{"field":"x","type":"quantitative","axis":{"orient":"top","values":[0,50,100,150,200],"labels":false,"title":null}},
"y":{"field":"y","type":"quantitative","axis":{"orient":"right","values":[-15,-10,-5,0],"labels":false,"title":null}}}}
],"resolve":{"axis":{"x":"independent","y":"independent"}}},
{"width":276,"height":215,"title":"Function b(x,y)=1+y, grid=(40,40)",
"layer":[
{"data":{"name":"H"},"transform":[{"filter":"datum.p === 'sq'"}],"mark":{"type":"bar","orient":"vertical","size":6.9,"xOffset":1.2,"color":"#8f8f8f"},"encoding":{
"x":{"field":"x","type":"quantitative","scale":{"domain":[0,20],"nice":false,"zero":false},"axis":{"orient":"bottom","values":[0,5,10,15,20],"title":"b−square, powers: left 0, right 0","labelFontSize":18,"labelPadding":8,"titlePadding":3}},
"y":{"field":"h","type":"quantitative","scale":{"domain":[0,0.2],"nice":false},"axis":{"orient":"left","values":[0,0.05,0.1,0.15,0.2],"format":"~g","title":null,"labelFontSize":18,"labelPadding":10}}}},
{"data":{"name":"H"},"transform":[{"filter":"datum.p === 'sq'"}],"mark":{"type":"bar","orient":"vertical","size":4.6,"fill":"white","stroke":"black","strokeWidth":0.9},"encoding":{
"x":{"field":"x","type":"quantitative","axis":{"orient":"top","values":[0,5,10,15,20],"labels":false,"title":null}},
"y":{"field":"h","type":"quantitative","axis":{"orient":"right","values":[0,0.05,0.1,0.15,0.2],"labels":false,"title":null}}}},
{"data":{"name":"C"},"transform":[{"filter":"datum.p === 'sq'"}],"mark":{"type":"line","strokeWidth":2.7,"clip":true},"encoding":{
"x":{"field":"x","type":"quantitative","axis":null},"y":{"field":"y","type":"quantitative","axis":null},
"color":{"field":"s","type":"nominal","scale":{"domain":["yel","fit","r1","r2"],"range":["#f3df1c","#2f3e90","#e8273c","#e8273c"]},"legend":null}}}
],"resolve":{"axis":{"x":"independent","y":"independent"}}},
{"width":276,"height":215,
"layer":[
{"data":{"name":"H"},"transform":[{"filter":"datum.p === 't1'"}],"mark":{"type":"bar","orient":"vertical","size":6.9,"xOffset":1.2,"color":"#8f8f8f"},"encoding":{
"x":{"field":"x","type":"quantitative","scale":{"domain":[0,20],"nice":false,"zero":false},"axis":{"orient":"bottom","values":[0,5,10,15,20],"title":"b−triangle1, powers: left 0, right 0","labelFontSize":18,"labelPadding":8,"titlePadding":3}},
"y":{"field":"h","type":"quantitative","scale":{"domain":[0,0.2],"nice":false},"axis":{"orient":"left","values":[0,0.05,0.1,0.15,0.2],"format":"~g","title":null,"labelFontSize":18,"labelPadding":10}}}},
{"data":{"name":"H"},"transform":[{"filter":"datum.p === 't1'"}],"mark":{"type":"bar","orient":"vertical","size":4.6,"fill":"white","stroke":"black","strokeWidth":0.9},"encoding":{
"x":{"field":"x","type":"quantitative","axis":{"orient":"top","values":[0,5,10,15,20],"labels":false,"title":null}},
"y":{"field":"h","type":"quantitative","axis":{"orient":"right","values":[0,0.05,0.1,0.15,0.2],"labels":false,"title":null}}}},
{"data":{"name":"C"},"transform":[{"filter":"datum.p === 't1'"}],"mark":{"type":"line","strokeWidth":2.7,"clip":true},"encoding":{
"x":{"field":"x","type":"quantitative","axis":null},"y":{"field":"y","type":"quantitative","axis":null},
"color":{"field":"s","type":"nominal","scale":{"domain":["yel","fit","r1","r2"],"range":["#f3df1c","#2f3e90","#e8273c","#e8273c"]},"legend":null}}}
],"resolve":{"axis":{"x":"independent","y":"independent"}}},
{"width":276,"height":215,
"layer":[
{"data":{"name":"H"},"transform":[{"filter":"datum.p === 'ls'"}],"mark":{"type":"bar","orient":"vertical","size":6.9,"xOffset":1.2,"color":"#8f8f8f"},"encoding":{
"x":{"field":"x","type":"quantitative","scale":{"domain":[0,20],"nice":false,"zero":false},"axis":{"orient":"bottom","values":[0,5,10,15,20],"title":"b−lshape, powers: left 0, right 0","labelFontSize":18,"labelPadding":8,"titlePadding":3}},
"y":{"field":"h","type":"quantitative","scale":{"domain":[0,0.2],"nice":false},"axis":{"orient":"left","values":[0,0.05,0.1,0.15,0.2],"format":"~g","title":null,"labelFontSize":18,"labelPadding":10}}}},
{"data":{"name":"H"},"transform":[{"filter":"datum.p === 'ls'"}],"mark":{"type":"bar","orient":"vertical","size":4.6,"fill":"white","stroke":"black","strokeWidth":0.9},"encoding":{
"x":{"field":"x","type":"quantitative","axis":{"orient":"top","values":[0,5,10,15,20],"labels":false,"title":null}},
"y":{"field":"h","type":"quantitative","axis":{"orient":"right","values":[0,0.05,0.1,0.15,0.2],"labels":false,"title":null}}}},
{"data":{"name":"C"},"transform":[{"filter":"datum.p === 'ls'"}],"mark":{"type":"line","strokeWidth":2.7,"clip":true},"encoding":{
"x":{"field":"x","type":"quantitative","axis":null},"y":{"field":"y","type":"quantitative","axis":null},
"color":{"field":"s","type":"nominal","scale":{"domain":["yel","fit","r1","r2"],"range":["#f3df1c","#2f3e90","#e8273c","#e8273c"]},"legend":null}}}
],"resolve":{"axis":{"x":"independent","y":"independent"}}},
{"width":276,"height":215,
"layer":[
{"data":{"name":"H"},"transform":[{"filter":"datum.p === 't2'"}],"mark":{"type":"bar","orient":"vertical","size":6.9,"xOffset":1.2,"color":"#8f8f8f"},"encoding":{
"x":{"field":"x","type":"quantitative","scale":{"domain":[0,20],"nice":false,"zero":false},"axis":{"orient":"bottom","values":[0,5,10,15,20],"title":"b−triangle2, powers: left 0, right 2","labelFontSize":18,"labelPadding":8,"titlePadding":3}},
"y":{"field":"h","type":"quantitative","scale":{"domain":[0,0.2],"nice":false},"axis":{"orient":"left","values":[0,0.05,0.1,0.15,0.2],"format":"~g","title":null,"labelFontSize":18,"labelPadding":10}}}},
{"data":{"name":"H"},"transform":[{"filter":"datum.p === 't2'"}],"mark":{"type":"bar","orient":"vertical","size":4.6,"fill":"white","stroke":"black","strokeWidth":0.9},"encoding":{
"x":{"field":"x","type":"quantitative","axis":{"orient":"top","values":[0,5,10,15,20],"labels":false,"title":null}},
"y":{"field":"h","type":"quantitative","axis":{"orient":"right","values":[0,0.05,0.1,0.15,0.2],"labels":false,"title":null}}}},
{"data":{"name":"C"},"transform":[{"filter":"datum.p === 't2'"}],"mark":{"type":"line","strokeWidth":2.7,"clip":true},"encoding":{
"x":{"field":"x","type":"quantitative","axis":null},"y":{"field":"y","type":"quantitative","axis":null},
"color":{"field":"s","type":"nominal","scale":{"domain":["yel","fit","r1","r2"],"range":["#f3df1c","#2f3e90","#e8273c","#e8273c"]},"legend":null}}}
],"resolve":{"axis":{"x":"independent","y":"independent"}}}
]
}
